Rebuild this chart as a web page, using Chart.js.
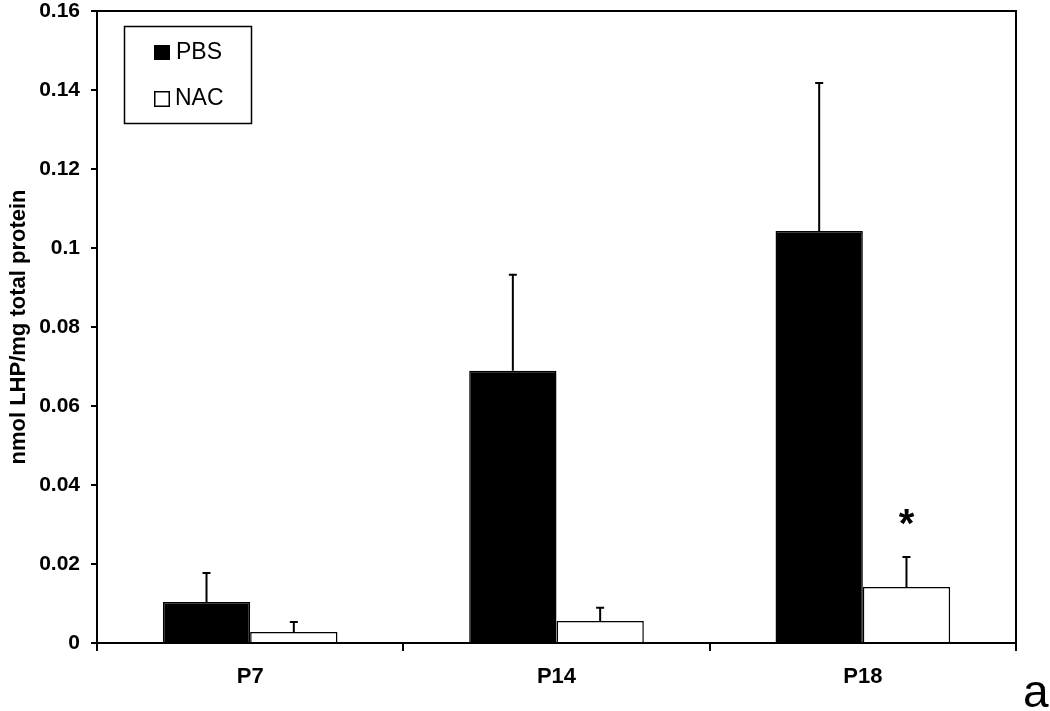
<!DOCTYPE html>
<html lang="en">
<head>
    <meta charset="UTF-8">
    <title>LHP chart</title>
    <script src="https://cdn.jsdelivr.net/npm/chart.js"></script>
    <style>
        html, body { margin: 0; padding: 0; background: #fff; }
        #wrap { width: 1050px; height: 711px; position: relative; }
    </style>
</head>
<body>
<div id="wrap">
    <canvas id="myChart" width="1050" height="711"></canvas>
</div>
<script>
// Chart data
const categories = ["P7", "P14", "P18"]
const pbsMeans = [0.0104, 0.0689, 0.1043]
const pbsErrors = [0.0073, 0.0243, 0.0375]
const nacMeans = [0.0028, 0.0056, 0.0142]
const nacErrors = [0.0025, 0.0033, 0.0076]
const yTicks = [0, 0.02, 0.04, 0.06, 0.08, 0.1, 0.12, 0.14, 0.16]

const FONT = "'Liberation Sans', Arial, sans-serif"

// Draws the up-only error bars, the frame, the legend, asterisk and panel letter
const extrasPlugin = {
    id: "extras",
    afterDatasetsDraw(chart) {
        const ctx = chart.ctx
        const yScale = chart.scales.y
        const errs = [pbsErrors, nacErrors]

        ctx.save()
        ctx.strokeStyle = "#000"
        ctx.lineWidth = 2
        chart.data.datasets.forEach((ds, di) => {
            chart.getDatasetMeta(di).data.forEach((bar, i) => {
                const top = yScale.getPixelForValue(ds.data[i] + errs[di][i])
                ctx.beginPath()
                ctx.moveTo(bar.x, bar.y)
                ctx.lineTo(bar.x, top)
                ctx.moveTo(bar.x - 4, top)
                ctx.lineTo(bar.x + 4, top)
                ctx.stroke()
            })
        })

        // top and right borders of the plot box
        const a = chart.chartArea
        ctx.beginPath()
        ctx.moveTo(a.left, a.top)
        ctx.lineTo(a.right, a.top)
        ctx.lineTo(a.right, a.bottom + 8)
        ctx.stroke()

        // legend box
        ctx.lineWidth = 1.5
        ctx.strokeRect(124.5, 26.5, 127, 97)
        ctx.fillStyle = "#000"
        ctx.fillRect(154, 45, 16, 15)
        ctx.strokeRect(154.75, 91.75, 14.5, 14.5)
        ctx.font = "23px " + FONT
        ctx.textBaseline = "middle"
        ctx.textAlign = "left"
        ctx.fillText("PBS", 176, 53)
        ctx.fillText("NAC", 175, 99)

        // significance mark over P18 NAC
        const nacBar = chart.getDatasetMeta(1).data[2]
        const errTop = yScale.getPixelForValue(nacMeans[2] + nacErrors[2])
        ctx.font = "bold 40px " + FONT
        ctx.textAlign = "center"
        ctx.textBaseline = "alphabetic"
        ctx.fillText("*", nacBar.x, errTop - 20)

        // panel letter
        ctx.font = "46px " + FONT
        ctx.textAlign = "left"
        ctx.fillText("a", 1023, 707)
        ctx.restore()
    }
}

const ctx = document.getElementById("myChart")
new Chart(ctx, {
    type: "bar",
    data: {
        labels: categories,
        datasets: [
            {
                label: "PBS",
                data: pbsMeans,
                backgroundColor: "#000",
                borderColor: "#000",
                borderWidth: 1.5
            },
            {
                label: "NAC",
                data: nacMeans,
                backgroundColor: "#fff",
                borderColor: "#000",
                borderWidth: 1.5
            }
        ]
    },
    options: {
        responsive: false,
        animation: false,
        devicePixelRatio: 1,
        layout: { padding: { left: 0, top: 11, right: 34, bottom: 0 } },
        datasets: { bar: { categoryPercentage: 0.57, barPercentage: 1.0 } },
        plugins: {
            legend: { display: false },
            tooltip: { enabled: false }
        },
        scales: {
            x: {
                offset: true,
                grid: {
                    offset: true,
                    drawOnChartArea: false,
                    drawTicks: true,
                    tickLength: 8,
                    color: "#000",
                    lineWidth: 2
                },
                border: { color: "#000", width: 2 },
                ticks: {
                    color: "#000",
                    padding: 13,
                    font: { family: FONT, size: 22, weight: "bold" }
                },
                afterFit(scale) {
                    scale.height = 68
                    scale.paddingLeft = 0
                    scale.paddingRight = 0
                }
            },
            y: {
                min: 0,
                max: 0.16,
                afterBuildTicks(scale) { scale.ticks = yTicks.map(v => ({ value: v })) },
                grid: {
                    drawOnChartArea: false,
                    tickLength: 6,
                    color: "#000",
                    lineWidth: 2
                },
                border: { color: "#000", width: 2 },
                ticks: {
                    color: "#000",
                    padding: 11,
                    font: { family: FONT, size: 21, weight: "bold" },
                    callback: v => String(+v.toFixed(2))
                },
                title: {
                    display: true,
                    text: "nmol LHP/mg total protein",
                    color: "#000",
                    padding: { top: 6, bottom: 0 },
                    font: { family: FONT, size: 22, weight: "bold" }
                },
                afterFit(scale) {
                    scale.width = 97
                    scale.paddingTop = 0
                    scale.paddingBottom = 0
                }
            }
        }
    },
    plugins: [extrasPlugin]
})
</script>
</body>
</html>
